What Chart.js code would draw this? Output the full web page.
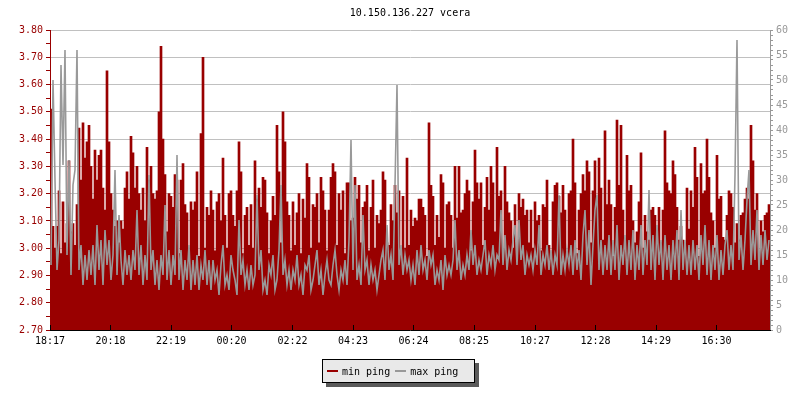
<!DOCTYPE html>
<html>
<head>
<meta charset="utf-8">
<script src="https://cdn.jsdelivr.net/npm/chart.js@4/dist/chart.umd.min.js"></script>
<style>
  html, body { margin: 0; padding: 0; background: #fff; }
  #wrap { position: relative; width: 800px; height: 400px; }
  #legend {
    position: absolute; left: 322px; top: 359px; width: 151px; height: 22px;
    border: 1px solid #000; background: #e9e9e9; box-shadow: 4px 4px 0 #5a5a5a;
    font: 10px "DejaVu Sans Mono", monospace; color: #000;
    display: flex; align-items: center;
  }
  .item { display: flex; align-items: center; }
  .item:first-child { margin-left: 4px; }
  .item + .item { margin-left: 5px; }
  .swatch { display: inline-block; width: 11px; height: 2px; margin-right: 4px; }
</style>
</head>
<body>
<div id="wrap">
  <canvas id="chart" width="800" height="400"></canvas>
  <div id="legend"></div>
</div>
<script>
const chartTitle = '10.150.136.227 vcera';
const seriesNames = ['min ping', 'max ping'];
const seriesColors = ['#990000', '#999999'];
const tickLabels = ['18:17', '20:18', '22:19', '00:20', '02:22', '04:23', '06:24', '08:25', '10:27', '12:28', '14:29', '16:30'];
const tickMinutes = [0, 121, 242, 363, 485, 606, 727, 848, 970, 1091, 1212, 1333];
const stepMinutes = 4;
const spanMinutes = 1440;

// min ping, left axis (ms)
const minPing = [
  3.51, 3.08, 3.00, 3.08, 3.21, 2.98, 3.17, 3.02, 3.09, 3.32, 3.06, 3.09, 3.01, 3.16, 3.44, 3.25, 3.46, 3.33, 3.39, 3.45,
  3.30, 3.18, 3.36, 3.25, 3.34, 3.36, 3.22, 3.14, 3.65, 3.39, 3.20, 3.14, 3.08, 3.10, 3.02, 3.10, 3.07, 3.22, 3.28, 3.18,
  3.41, 3.35, 3.22, 3.30, 3.20, 3.14, 3.22, 3.10, 3.37, 3.25, 3.30, 3.20, 3.18, 3.21, 3.50, 3.74, 3.40, 3.27, 3.06, 3.20,
  3.19, 3.15, 3.27, 3.25, 2.98, 3.25, 3.31, 3.16, 3.13, 3.00, 3.17, 3.14, 3.17, 3.28, 2.97, 3.42, 3.70, 3.00, 3.15, 3.12,
  3.21, 3.14, 2.99, 3.17, 3.20, 3.10, 3.33, 3.12, 3.00, 3.20, 3.21, 3.12, 3.08, 3.21, 3.39, 3.28, 2.98, 3.12, 3.15, 3.01,
  3.16, 3.00, 3.32, 3.18, 3.22, 3.15, 3.26, 3.25, 3.13, 2.98, 3.10, 3.19, 3.12, 3.45, 3.28, 3.02, 3.50, 3.39, 3.17, 3.12,
  2.99, 3.17, 3.01, 3.13, 3.20, 2.98, 3.18, 3.11, 3.31, 3.26, 3.00, 3.16, 3.15, 3.20, 3.02, 3.26, 3.21, 3.14, 2.99, 3.14,
  3.26, 3.31, 3.28, 3.01, 3.20, 3.14, 3.21, 2.98, 3.24, 3.24, 3.10, 3.11, 3.26, 3.18, 3.23, 3.02, 3.15, 3.17, 3.23, 2.99,
  3.15, 3.25, 3.00, 3.12, 3.09, 3.14, 3.28, 3.25, 3.02, 3.01, 3.16, 3.10, 3.23, 3.13, 3.21, 2.99, 3.19, 3.00, 3.33, 3.01,
  3.14, 3.08, 3.11, 3.10, 3.18, 3.18, 3.15, 3.12, 2.97, 3.46, 3.23, 3.19, 3.01, 3.12, 3.04, 3.27, 3.24, 3.00, 3.16, 3.17,
  3.12, 3.00, 3.30, 3.11, 3.30, 3.13, 3.14, 3.20, 3.25, 3.21, 2.99, 3.17, 3.36, 3.24, 3.18, 3.24, 3.01, 3.15, 3.26, 3.14,
  3.30, 3.24, 3.06, 3.37, 3.19, 3.21, 2.97, 3.30, 3.17, 3.13, 3.10, 3.00, 3.16, 2.99, 3.20, 3.15, 3.18, 3.12, 3.14, 3.02,
  3.14, 3.00, 3.17, 3.10, 3.12, 2.99, 3.16, 3.15, 3.25, 3.01, 2.98, 3.17, 3.23, 3.24, 3.19, 3.13, 3.23, 3.14, 2.97, 3.20,
  3.21, 3.40, 3.24, 2.98, 3.14, 3.20, 3.27, 3.21, 3.32, 3.28, 3.02, 3.21, 3.32, 3.17, 3.33, 3.22, 3.03, 3.43, 3.16, 3.25,
  3.16, 2.97, 3.15, 3.47, 3.23, 3.45, 3.14, 3.01, 3.34, 3.21, 3.23, 3.10, 3.02, 3.06, 3.17, 3.35, 3.00, 3.12, 3.06, 3.03,
  3.14, 3.15, 3.12, 3.06, 3.15, 3.02, 3.14, 3.43, 3.24, 3.21, 3.20, 3.32, 3.27, 3.15, 3.03, 3.08, 3.03, 3.01, 3.22, 3.07,
  3.21, 3.15, 3.37, 3.26, 2.97, 3.31, 3.20, 3.21, 3.40, 3.26, 3.13, 3.10, 3.00, 3.34, 3.18, 3.19, 3.04, 3.03, 3.12, 3.21,
  3.20, 3.15, 3.02, 3.09, 3.03, 3.12, 3.13, 3.18, 3.22, 3.18, 3.45, 3.32, 3.14, 3.20, 2.98, 3.10, 3.06, 3.12, 3.13, 3.16
];

// max ping, right axis (ms)
const maxPing = [
  13, 50, 30, 12, 18, 53, 33, 56, 15, 34, 11, 29, 32, 56, 12, 17, 9, 15, 10, 16,
  11, 17, 9, 21, 12, 18, 9, 20, 13, 18, 10, 15, 32, 11, 23, 14, 9, 16, 11, 15,
  10, 16, 12, 24, 11, 17, 9, 15, 10, 31, 12, 16, 9, 14, 8, 15, 11, 25, 10, 16,
  9, 15, 11, 35, 10, 16, 8, 14, 10, 17, 8, 14, 9, 15, 8, 13, 10, 16, 9, 14,
  8, 14, 10, 12, 7, 13, 17, 9, 11, 8, 15, 12, 10, 7, 22, 11, 14, 9, 12, 8,
  13, 9, 11, 27, 12, 16, 8, 10, 7, 13, 11, 15, 8, 10, 16, 29, 11, 14, 9, 12,
  8, 12, 10, 15, 9, 11, 7, 13, 12, 15, 8, 10, 13, 16, 9, 12, 7, 11, 14, 10,
  9, 13, 16, 11, 8, 12, 10, 14, 9, 18, 38, 12, 29, 10, 13, 9, 23, 12, 14, 9,
  13, 10, 12, 8, 11, 14, 16, 10, 21, 12, 15, 10, 29, 49, 13, 17, 11, 15, 12, 14,
  10, 13, 9, 16, 11, 17, 12, 14, 10, 16, 13, 15, 9, 12, 10, 14, 8, 15, 11, 13,
  11, 14, 22, 12, 16, 10, 13, 11, 15, 12, 20, 13, 17, 11, 14, 12, 15, 18, 11, 15,
  13, 17, 12, 15, 14, 24, 13, 19, 12, 16, 14, 18, 21, 13, 22, 14, 17, 11, 15, 13,
  15, 12, 16, 13, 21, 11, 15, 13, 17, 12, 16, 11, 15, 13, 27, 11, 15, 12, 16, 13,
  17, 11, 18, 12, 16, 10, 19, 24, 13, 20, 9, 17, 24, 27, 12, 18, 11, 17, 12, 19,
  11, 18, 12, 21, 10, 17, 13, 19, 11, 18, 12, 20, 10, 17, 12, 21, 11, 18, 13, 28,
  12, 19, 10, 21, 13, 18, 10, 19, 12, 17, 10, 18, 12, 20, 10, 24, 12, 18, 11, 17,
  11, 18, 12, 17, 10, 19, 13, 21, 11, 18, 10, 17, 12, 19, 10, 16, 11, 17, 20, 12,
  17, 12, 31, 58, 14, 19, 12, 18, 26, 32, 13, 20, 14, 24, 12, 19, 13, 20, 14, 18
];

const mono = '"DejaVu Sans Mono", monospace';
Chart.defaults.font.family = mono;
Chart.defaults.font.size = 10;

// each sample is drawn at the middle of its 4 minute slot
const toPoints = (arr) => arr.map((v, i) => ({ x: i * stepMinutes + stepMinutes / 2, y: v }));
const isMajor = (v) => Math.round(v * 100) % 10 === 0;

const chart = new Chart(document.getElementById('chart').getContext('2d'), {
  type: 'line',
  data: {
    datasets: [
      {
        type: 'bar',
        label: seriesNames[0],
        data: toPoints(minPing),
        yAxisID: 'y',
        backgroundColor: seriesColors[0],
        borderColor: seriesColors[0],
        borderWidth: 0,
        barPercentage: 1,
        categoryPercentage: 1,
        grouped: false,
        order: 2
      },
      {
        type: 'line',
        label: seriesNames[1],
        data: toPoints(maxPing),
        yAxisID: 'y1',
        fill: false,
        tension: 0,
        borderColor: seriesColors[1],
        borderWidth: 1.6,
        pointRadius: 0,
        order: 1
      }
    ]
  },
  options: {
    responsive: false,
    animation: false,
    devicePixelRatio: 1,
    layout: { padding: { left: 0, right: 0, top: 0, bottom: 50 } },
    plugins: {
      legend: { display: false },
      tooltip: { enabled: false },
      title: {
        display: true,
        text: chartTitle,
        color: '#000',
        fullSize: false,
        font: { size: 10, weight: 'normal' },
        padding: { top: 7, bottom: 11 }
      }
    },
    scales: {
      x: {
        type: 'linear',
        min: 0,
        max: spanMinutes,
        offset: false,
        afterBuildTicks: (s) => { s.ticks = tickMinutes.map((v) => ({ value: v })); },
        afterFit: (s) => { s.height = 20; },
        ticks: {
          autoSkip: false,
          maxRotation: 0,
          color: '#000',
          padding: 10,
          callback: (v, i) => tickLabels[i]
        },
        grid: { offset: false, drawOnChartArea: false, drawTicks: true, tickLength: -5, tickColor: '#000', z: 1 },
        border: { color: '#000', z: 1 }
      },
      y: {
        position: 'left',
        min: 2.7,
        max: 3.8,
        afterFit: (s) => { s.width = 50; },
        ticks: {
          stepSize: 0.05,
          autoSkip: false,
          color: '#990000',
          padding: 3,
          callback: (v) => (isMajor(v) ? v.toFixed(2) : '')
        },
        grid: {
          color: (ctx) => (ctx.tick && isMajor(ctx.tick.value) ? '#c0c0c0' : 'rgba(0,0,0,0)'),
          tickColor: '#990000',
          tickLength: 4
        },
        border: { color: '#990000' }
      },
      y1: {
        position: 'right',
        min: 0,
        max: 60,
        afterFit: (s) => { s.width = 30; },
        ticks: {
          stepSize: 1,
          autoSkip: false,
          color: '#999999',
          padding: 3,
          callback: (v) => (v % 5 === 0 ? v : '')
        },
        grid: { drawOnChartArea: false, tickColor: '#999999', tickLength: 3 },
        border: { color: '#999999' }
      }
    }
  }
});

// legend box under the chart
const legend = document.getElementById('legend');
chart.data.datasets.forEach((ds) => {
  const item = document.createElement('div');
  item.className = 'item';
  const sw = document.createElement('span');
  sw.className = 'swatch';
  sw.style.background = ds.borderColor;
  item.appendChild(sw);
  item.appendChild(document.createTextNode(ds.label));
  legend.appendChild(item);
});
</script>
</body>
</html>
